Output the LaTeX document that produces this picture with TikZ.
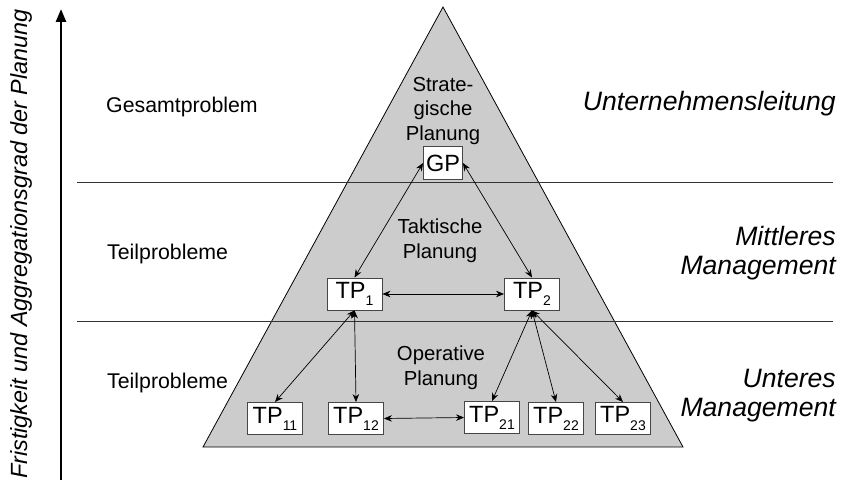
\documentclass[tikz,border=0pt]{standalone}
\usepackage{fontspec}
\setmainfont{Liberation Sans}
\usetikzlibrary{arrows.meta}
\definecolor{pyrgray}{RGB}{204,204,204}
\definecolor{boxline}{RGB}{70,70,70}
\newcommand{\sbs}[1]{\raisebox{-0.3em}{\fontsize{14}{14}\selectfont #1}}
\begin{document}
\begin{tikzpicture}[x=1pt,y=-1pt,
  planbox/.style={draw=boxline,fill=white,line width=0.9pt,inner sep=0pt,
    minimum width=55pt,minimum height=32pt,font=\fontsize{23.5}{23.5}\selectfont},
  lbl/.style={font=\fontsize{21.3}{21.3}\selectfont,inner sep=0pt},
  innerlbl/.style={font=\fontsize{20.3}{24.5}\selectfont,align=center,inner sep=0pt},
  mgmt/.style={font=\fontsize{26.6}{29}\selectfont\itshape,align=right,inner sep=0pt},
  link/.style={{Stealth[length=8pt,width=6.5pt]}-{Stealth[length=8pt,width=6.5pt]},line width=0.7pt},
  divider/.style={draw=black!80,line width=0.8pt}]
\useasboundingbox (0,0) rectangle (841,489);

% pyramid
\draw[fill=pyrgray,line width=0.8pt] (443,7) -- (683,447) -- (203,447) -- cycle;

% level dividers
\draw[divider] (77,182) -- (833,182);
\draw[divider] (77,321) -- (833,321);

% planning levels inside the pyramid
\node[innerlbl] (strat) at (443,111) {Strate-\\gische\\Planung};
\node[innerlbl] (takt) at (440,241) {Taktische\\Planung};
\node[innerlbl] (oper) at (441,368) {Operative\\Planung};

% problem boxes
\node[planbox,minimum width=39pt,minimum height=33pt] (gp) at (443,163) {GP};
\node[planbox] (tp1) at (354.5,294) {TP\sbs{1}};
\node[planbox] (tp2) at (532,294) {TP\sbs{2}};
\node[planbox] (tp11) at (275,418.5) {TP\sbs{11}};
\node[planbox] (tp12) at (356,418.5) {TP\sbs{12}};
\node[planbox] (tp21) at (492,417.5) {TP\sbs{21}};
\node[planbox] (tp22) at (556,418.5) {TP\sbs{22}};
\node[planbox] (tp23) at (623,418.5) {TP\sbs{23}};

% coordination links
\draw[link] (gp.west) -- (tp1.north);
\draw[link] (gp.east) -- (tp2.north);
\draw[link] (tp1.east) -- (tp2.west);
\draw[link] (tp1.south) -- (tp11.north);
\draw[link] (tp1.south) -- (tp12.north);
\draw[link] (tp2.south) -- (tp21.north);
\draw[link] (tp2.south) -- (tp22.north);
\draw[link] (tp2.south) -- (tp23.north);
\draw[link] (tp12.east) -- (tp21.west);

% problem labels on the left
\node[lbl,anchor=west] (gesamt) at (106,107) {Gesamtproblem};
\node[lbl,anchor=west] (teil1) at (107,254) {Teilprobleme};
\node[lbl,anchor=west] (teil2) at (107,383) {Teilprobleme};

% management levels on the right
\node[mgmt,anchor=east] (ul) at (836,104) {Unternehmensleitung};
\node[mgmt,anchor=east] (mm) at (836,253) {Mittleres\hspace{7pt}\\Management};
\node[mgmt,anchor=east] (um) at (836,396) {Unteres\hspace{7pt}\\Management};

% axis on the left
\coordinate (axbot) at (61,480);
\coordinate (axtop) at (61,9);
\draw[line width=2.6pt,-{Triangle[length=13pt,width=10pt]}] (axbot) -- (axtop);
\node[rotate=90,font=\fontsize{23.4}{23.4}\selectfont\itshape,inner sep=0pt] (axlbl) at (21,244)
  {Fristigkeit und Aggregationsgrad der Planung};
\end{tikzpicture}
\end{document}
